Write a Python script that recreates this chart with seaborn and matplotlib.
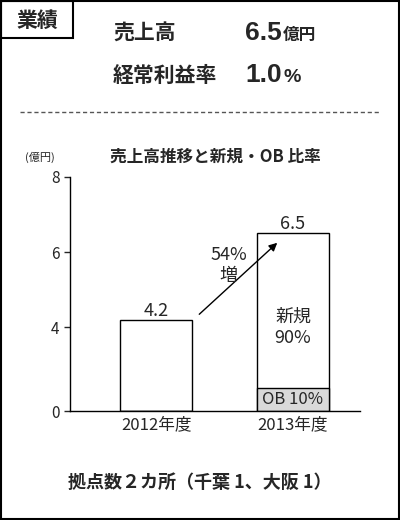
import matplotlib
matplotlib.use("Agg")
import matplotlib.pyplot as plt
import matplotlib.patches as mpatches
import seaborn as sns
import pandas as pd
import numpy as np

years = ["2012年度", "2013年度"]
sales = [4.2, 6.5]
ob_height = [0.0, 1.1]
yticks = [0, 4, 6, 8]

sns.set_style("white")
plt.rcParams['font.family'] = ['Noto Sans CJK JP', 'DejaVu Sans']

# axis is drawn non-linear in the original: 0-4 takes half the space of 4-8
def fwd(v):
    v = np.asarray(v, dtype=float)
    return np.where(v <= 4, v / 2, (v - 2) * 0.9 + 0.2)

def inv(s):
    s = np.asarray(s, dtype=float)
    return np.where(s <= 2, s * 2, (s - 0.2) / 0.9 + 2)

fig = plt.figure(figsize=(4, 5.2), dpi=100)
W, H = 400, 520

# frame
fig.patches.append(mpatches.Rectangle((1 / W, 1 / H), 398 / W, 518 / H, transform=fig.transFigure,
                                      fill=False, lw=1.5, ec="black"))
fig.patches.append(mpatches.Rectangle((1 / W, 482 / H), 72 / W, 37 / H, transform=fig.transFigure,
                                      fill=False, lw=1.5, ec="black"))
fig.text(37 / W, 1 - 20 / H, "業績", ha="center", va="center", fontsize=15, weight="bold")
fig.text(113 / W, 1 - 33 / H, "売上高", ha="left", va="center", fontsize=15, weight="bold")
fig.text(245 / W, 1 - 33 / H, "6.5", ha="left", va="center", fontsize=19, weight="bold", family="Liberation Sans")
fig.text(283 / W, 1 - 35 / H, "億円", ha="left", va="center", fontsize=12, weight="bold")
fig.text(113 / W, 1 - 75 / H, "経常利益率", ha="left", va="center", fontsize=15, weight="bold")
fig.text(245 / W, 1 - 75 / H, "1.0", ha="left", va="center", fontsize=19, weight="bold", family="Liberation Sans")
fig.text(283 / W, 1 - 77 / H, "%", ha="left", va="center", fontsize=14, weight="bold", family="Liberation Sans")
fig.lines.append(plt.Line2D([20 / W, 380 / W], [1 - 112 / H] * 2, transform=fig.transFigure,
                            color="#555555", lw=1, ls=(0, (3, 2))))
fig.text(215 / W, 1 - 157 / H, "売上高推移と新規・OB 比率", ha="center", va="center", fontsize=12, weight="bold")
fig.text(40 / W, 1 - 157 / H, "(億円)", ha="center", va="center", fontsize=8)
fig.text(200 / W, 1 - 482 / H, "拠点数２カ所（千葉 1、大阪 1）", ha="center", va="center", fontsize=13, weight="bold")

ax = fig.add_axes([70 / W, 1 - 411 / H, 290 / W, 234 / H])
ax.set_yscale("function", functions=(fwd, inv))
df = pd.DataFrame({"year": years, "sales": sales})
sns.barplot(data=df, x="year", y="sales", ax=ax, color="white", edgecolor="black", linewidth=1, width=0.53)
ax.bar(years, ob_height, width=0.53, color="#d9d9d9", edgecolor="black", linewidth=1)
ax.set_ylim(0, 8)
ax.set_xlim(-0.63, 1.49)
ax.set_yticks(yticks)
ax.set_yticklabels([str(t) for t in yticks], fontsize=11)
ax.tick_params(axis="y", length=4, left=True, width=1)
ax.tick_params(axis="x", length=0, labelsize=12)
ax.set_xlabel("")
ax.set_ylabel("")
for s in ["top", "right"]:
    ax.spines[s].set_visible(False)
for s in ["left", "bottom"]:
    ax.spines[s].set_color("black")
    ax.spines[s].set_linewidth(1)

for i, v in enumerate(sales):
    ax.text(i, v, f"{v}", ha="center", va="bottom", fontsize=13)
ax.text(1, 4.0, "新規\n90%", ha="center", va="center", fontsize=13, linespacing=1.2)
ax.text(1, ob_height[1] / 2, "OB 10%", ha="center", va="center", fontsize=12)
ax.annotate("", xy=(0.9, 6.3), xytext=(0.3, 4.3),
            arrowprops=dict(arrowstyle="-|>", color="black", lw=1, mutation_scale=12))
ax.text(0.53, 5.65, "54%\n増", ha="center", va="center", fontsize=13, linespacing=1.2)

fig.savefig("out.png", dpi=100)
